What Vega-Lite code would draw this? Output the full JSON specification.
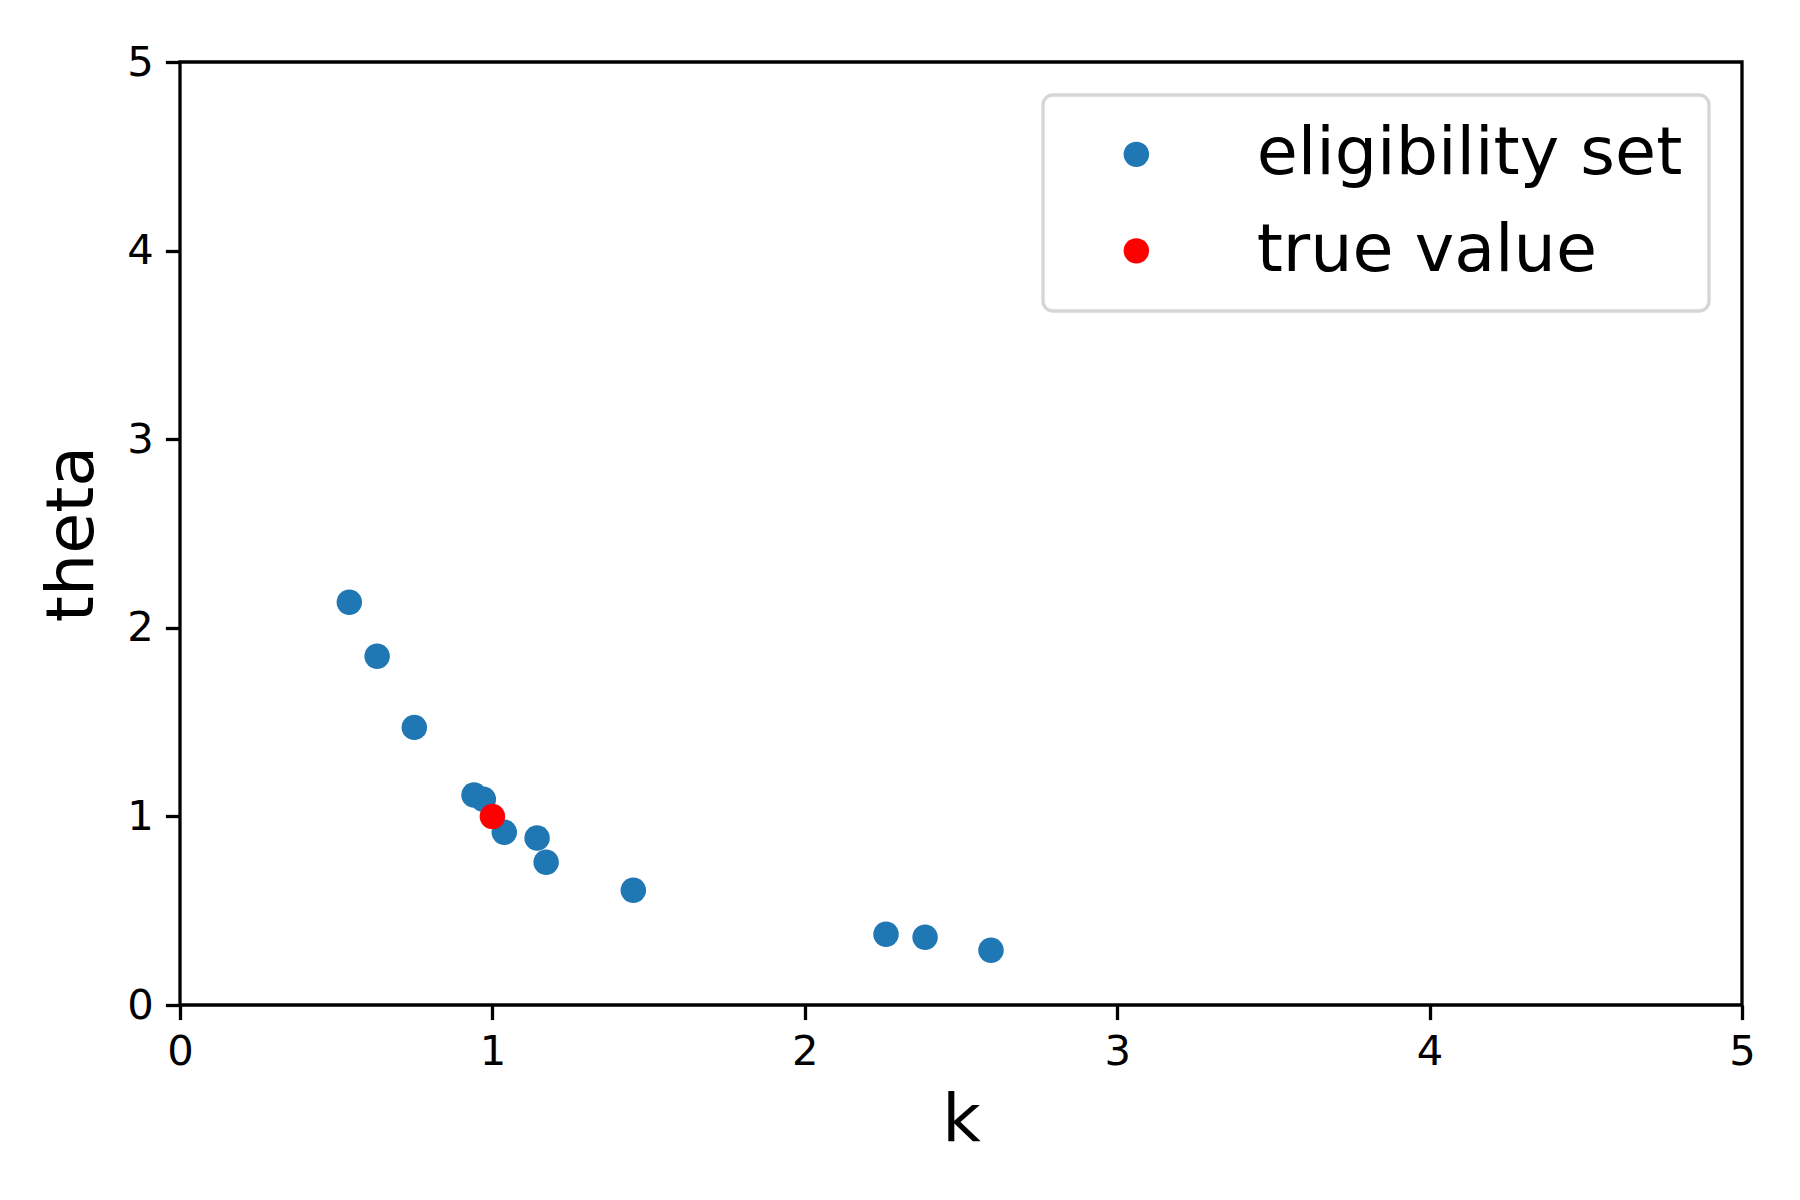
{
  "$schema": "https://vega.github.io/schema/vega-lite/v6.json",
  "width": 1562,
  "height": 943,
  "autosize": {"type": "none"},
  "padding": {"left": 180, "top": 62, "right": 58, "bottom": 195},
  "background": "white",
  "config": {
    "font": "DejaVu Sans",
    "view": {"stroke": "black", "strokeWidth": 3.3},
    "legend": {"strokeWidth": 3.3},
    "axis": {
      "grid": false,
      "domain": false,
      "tickColor": "black",
      "tickWidth": 3.3,
      "tickSize": 14.6,
      "labelPadding": 12,
      "labelFontSize": 41.7,
      "labelColor": "black",
      "labelFont": "DejaVu Sans",
      "labelFlush": false,
      "titleFont": "DejaVu Sans",
      "titleFontSize": 66.7,
      "titleFontWeight": "normal",
      "titleColor": "black"
    }
  },
  "data": {
    "values": [
      {"k": 0.542, "theta": 2.135, "series": "eligibility set"},
      {"k": 0.631, "theta": 1.849, "series": "eligibility set"},
      {"k": 0.750, "theta": 1.472, "series": "eligibility set"},
      {"k": 0.941, "theta": 1.113, "series": "eligibility set"},
      {"k": 0.971, "theta": 1.091, "series": "eligibility set"},
      {"k": 1.038, "theta": 0.916, "series": "eligibility set"},
      {"k": 1.143, "theta": 0.885, "series": "eligibility set"},
      {"k": 1.172, "theta": 0.757, "series": "eligibility set"},
      {"k": 1.451, "theta": 0.608, "series": "eligibility set"},
      {"k": 2.260, "theta": 0.375, "series": "eligibility set"},
      {"k": 2.385, "theta": 0.359, "series": "eligibility set"},
      {"k": 2.596, "theta": 0.290, "series": "eligibility set"},
      {"k": 1.0, "theta": 1.0, "series": "true value"}
    ]
  },
  "mark": {"type": "point", "filled": true, "opacity": 1, "size": 647, "shape": "circle"},
  "encoding": {
    "x": {
      "field": "k", "type": "quantitative",
      "scale": {"domain": [0, 5], "nice": false, "zero": false},
      "axis": {"values": [0, 1, 2, 3, 4, 5], "format": "d", "title": "k", "titlePadding": 14}
    },
    "y": {
      "field": "theta", "type": "quantitative",
      "scale": {"domain": [0, 5], "nice": false, "zero": false},
      "axis": {"values": [0, 1, 2, 3, 4, 5], "format": "d", "title": "theta", "titlePadding": 20}
    },
    "color": {
      "field": "series", "type": "nominal",
      "scale": {"domain": ["eligibility set", "true value"], "range": ["#1f77b4", "#ff0000"]},
      "legend": {
        "title": null,
        "orient": "none",
        "legendX": 863,
        "legendY": 33,
        "padding": 26,
        "symbolOffset": 34,
        "symbolSize": 647,
        "symbolType": "circle",
        "labelOffset": 87,
        "labelLimit": 0,
        "labelFontSize": 66.7,
        "labelFont": "DejaVu Sans",
        "labelColor": "black",
        "rowPadding": 28.5,
        "strokeColor": "#d6d6d6",
        "cornerRadius": 10,
        "fillColor": "white"
      }
    },
    "order": {"field": "series", "type": "nominal"}
  }
}
